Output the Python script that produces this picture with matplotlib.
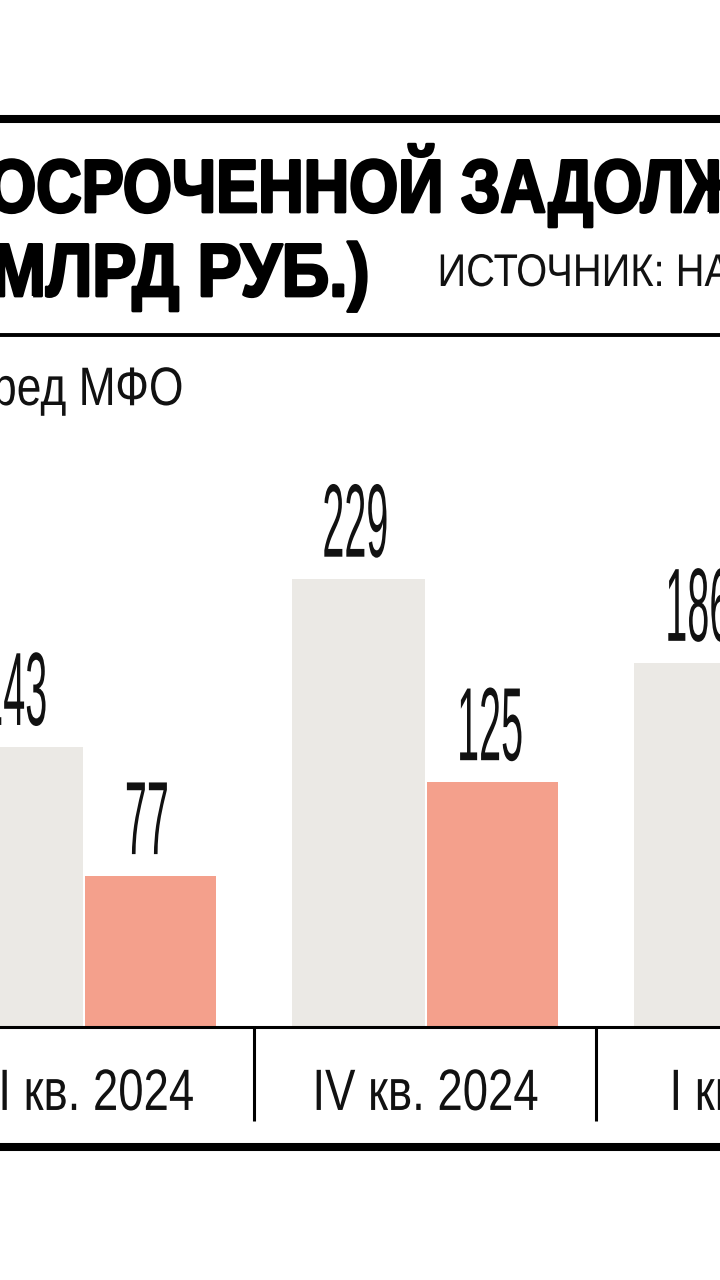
import numpy as np
import matplotlib
matplotlib.use("Agg")
import matplotlib.pyplot as plt
from matplotlib.lines import Line2D
from matplotlib.patheffects import AbstractPathEffect
from matplotlib.transforms import Affine2D

# Data (bn rub.)
quarters = ['III кв. 2024', 'IV кв. 2024', 'I кв. 2025']
total_debt = [143, 229, 186]          # grey bars
mfo_debt = [77, 125, np.nan]          # salmon bars (third one is off the picture)

GREY = '#EBE9E5'
SALMON = '#F4A08C'
SANS = ['Liberation Sans', 'DejaVu Sans']


# squeeze text horizontally to get a condensed look
class Squeeze(AbstractPathEffect):
    def __init__(self, sx, anchor='center', lw=0):
        super().__init__()
        self.sx, self.anchor, self.lw = sx, anchor, lw

    def draw_path(self, renderer, gc, tpath, affine, rgbFace=None):
        ext = tpath.get_extents(affine)
        if self.anchor == 'left':
            x0 = ext.x0
        elif self.anchor == 'right':
            x0 = ext.x1
        else:
            x0 = (ext.x0 + ext.x1) / 2
        aff = affine + Affine2D().translate(-x0, 0).scale(self.sx, 1).translate(x0, 0)
        renderer.draw_path(gc, tpath, aff, rgbFace)
        if self.lw:
            gc0 = renderer.new_gc()
            gc0.copy_properties(gc)
            gc0.set_linewidth(self.lw)
            gc0.set_foreground(rgbFace)
            gc0.set_joinstyle('round')
            renderer.draw_path(gc0, tpath, aff, None)
            gc0.restore()


W, H = 720, 1280
def fx(px):
    return px / W
def fy(py):
    return 1 - py / H

fig = plt.figure(figsize=(7.2, 12.8), dpi=100, facecolor='white')

# header rules and titles
fig.add_artist(Line2D([0, 1], [fy(119), fy(119)], lw=5.8, color='black', transform=fig.transFigure))
fig.add_artist(Line2D([0, 1], [fy(335), fy(335)], lw=2.8, color='black', transform=fig.transFigure))
fig.add_artist(Line2D([0, 1], [fy(1147), fy(1147)], lw=5.8, color='black', transform=fig.transFigure))

fig.text(fx(-100), fy(212), 'ПРОСРОЧЕННОЙ ЗАДОЛЖЕННОСТИ', ha='left', va='baseline',
         fontsize=54, fontweight='bold', family=SANS, color='black',
         path_effects=[Squeeze(0.84, 'left', 2.0)])
fig.text(fx(370), fy(296), '(МЛРД РУБ.)', ha='right', va='baseline',
         fontsize=54, fontweight='bold', family=SANS, color='black',
         path_effects=[Squeeze(0.88, 'right', 2.0)])
fig.text(fx(437), fy(286), 'ИСТОЧНИК: НАПКА', ha='left', va='baseline',
         fontsize=33, family=SANS, color='#111111',
         path_effects=[Squeeze(0.87, 'left')])
fig.text(fx(183), fy(405), 'Долг перед МФО', ha='right', va='baseline',
         fontsize=39, family=SANS, color='#111111',
         path_effects=[Squeeze(0.82, 'right')])

# bar chart
ax = fig.add_axes([0, 1 - 1027 / H, 1, (1027 - 440) / H])
x = np.arange(len(quarters))
ax.bar(x - 0.194, total_debt, width=0.389, color=GREY)
red = np.array(mfo_debt, dtype=float)
ok = ~np.isnan(red)
ax.bar(x[ok] + 0.197, red[ok], width=0.383, color=SALMON)

for xi, v in zip(x - 0.194, total_debt):
    ax.annotate(str(v), (xi, v), xytext=(-2.5, 16), textcoords='offset points',
                ha='center', va='baseline', fontsize=75, family=SANS,
                color='#111111', path_effects=[Squeeze(0.38)])
for xi, v in zip(x[ok] + 0.197, red[ok]):
    ax.annotate(str(int(v)), (xi, v), xytext=(-2.5, 16), textcoords='offset points',
                ha='center', va='baseline', fontsize=75, family=SANS,
                color='#111111', path_effects=[Squeeze(0.38)])

for xi, q in zip(x, quarters):
    ax.text(xi, -42.4, q, ha='center', va='baseline', fontsize=42, family=SANS,
            color='#111111', path_effects=[Squeeze(0.78)])

ax.vlines(x[:-1] + 0.5, -48, 0, colors='black', lw=2.2, clip_on=False)

ax.set_xlim(-0.2427, 1.8626)
ax.set_ylim(0, 300)
ax.set_xticks([])
ax.set_yticks([])
for s in ['top', 'left', 'right']:
    ax.spines[s].set_visible(False)
ax.spines['bottom'].set_linewidth(2.2)
ax.spines['bottom'].set_color('black')
ax.set_facecolor('none')

fig.savefig('out.png', dpi=100)
